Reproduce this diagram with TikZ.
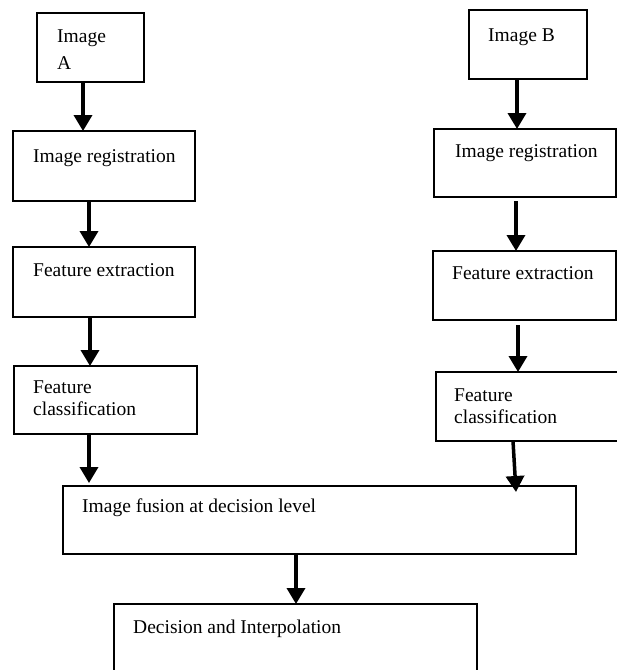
\documentclass[tikz,border=0pt]{standalone}
\usepackage{fontspec}
\setmainfont{Liberation Serif}
\usetikzlibrary{arrows.meta,calc}
\begin{document}
\begin{tikzpicture}[x=1pt,y=-1pt,
  box/.style={draw,line width=1.6pt,anchor=north west,inner sep=0pt,outer sep=0pt},
  lbl/.style={anchor=base west,inner sep=0pt,font=\fontsize{19.5}{23}\selectfont},
  arr/.style={line width=3.5pt,-{Triangle[length=16pt,width=18pt]}}]
\useasboundingbox (0,0) rectangle (617,670);
% boxes
\node[box,minimum width=107pt,minimum height=69pt] (imgA) at (37,13) {};
\node[box,minimum width=182pt,minimum height=70pt] (regA) at (13,131) {};
\node[box,minimum width=182pt,minimum height=70pt] (feA) at (13,247) {};
\node[box,minimum width=183pt,minimum height=68pt] (fcA) at (14,366) {};
\node[box,minimum width=118pt,minimum height=69pt] (imgB) at (469,10) {};
\node[box,minimum width=182pt,minimum height=68pt] (regB) at (434,129) {};
\node[box,minimum width=183pt,minimum height=69pt] (feB) at (433,251) {};
\node[box,minimum width=186pt,minimum height=69pt] (fcB) at (436,372) {};
\node[box,minimum width=513pt,minimum height=68pt] (fus) at (63,486) {};
\node[box,minimum width=363pt,minimum height=80pt] (dec) at (114,604) {};
% texts
\node[lbl] (tA1) at (57,42) {Image};
\node[lbl] (tA2) at (57,69) {A};
\node[lbl] (tB) at (488,41) {Image B};
\node[lbl] (tregA) at (33,162) {Image registration};
\node[lbl] (tregB) at (455,157) {Image registration};
\node[lbl] (tfeA) at (33,276) {Feature extraction};
\node[lbl] (tfeB) at (452,279) {Feature extraction};
\node[lbl] (tfcA1) at (33,393) {Feature};
\node[lbl] (tfcA2) at (33,415) {classification};
\node[lbl] (tfcB1) at (454,401) {Feature};
\node[lbl] (tfcB2) at (454,423) {classification};
\node[lbl] (tfus) at (82,512) {Image fusion at decision level};
\node[lbl] (tdec) at (133,633) {Decision and Interpolation};
% arrows
\draw[arr] (imgA.south -| 83,0) -- (regA.north -| 83,0);
\draw[arr] (regA.south -| 89,0) -- (feA.north -| 89,0);
\draw[arr] (feA.south -| 90,0) -- (fcA.north -| 90,0);
\draw[arr] (fcA.south -| 89,0) -- ($(fus.north -| 89,0)+(0,-3)$);
\draw[arr] (imgB.south -| 517,0) -- (regB.north -| 517,0);
\draw[arr] ($(regB.south -| 516,0)+(0,4)$) -- (feB.north -| 516,0);
\draw[arr] ($(feB.south -| 518,0)+(0,5)$) -- (fcB.north -| 518,0);
\draw[arr] (fcB.south -| 513,0) -- ($(fus.north -| 516,0)+(0,6)$);
\draw[arr] (fus.south -| 296,0) -- (dec.north -| 296,0);
\end{tikzpicture}
\end{document}
